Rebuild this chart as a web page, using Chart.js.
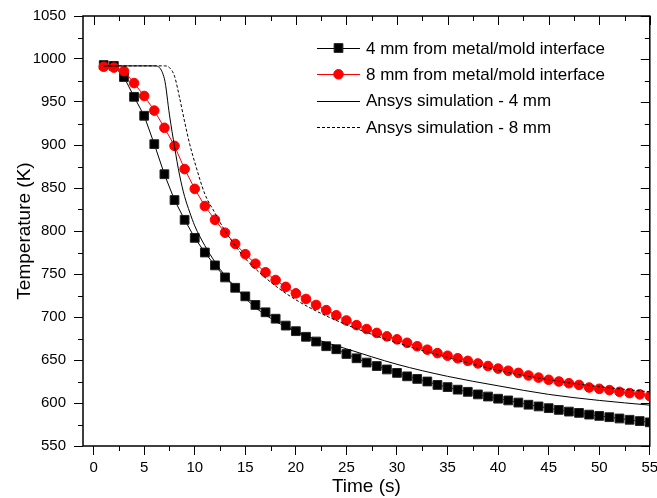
<!DOCTYPE html>
<html>
<head>
<meta charset="utf-8">
<script src="https://cdn.jsdelivr.net/npm/chart.js@4.4.0/dist/chart.umd.min.js"></script>
<style>
  html, body { margin: 0; padding: 0; background: #fff; }
</style>
</head>
<body>
<canvas id="chart" width="657" height="498"></canvas>
<script>
// ── Data ─────────────────────────────────────────────────────────────────────
const time = [1, 2, 3, 4, 5, 6, 7, 8, 9, 10, 11, 12, 13, 14, 15, 16, 17, 18, 19, 20,
  21, 22, 23, 24, 25, 26, 27, 28, 29, 30, 31, 32, 33, 34, 35, 36, 37, 38, 39, 40,
  41, 42, 43, 44, 45, 46, 47, 48, 49, 50, 51, 52, 53, 54, 55];

const temp4mm = [993, 992, 979, 956, 934, 901, 866, 836, 813, 792, 775, 760, 746, 734, 724, 714, 705.5, 698, 690, 683.5,
  677, 671.5, 666, 662.5, 657, 652, 647, 643, 639, 635, 631, 628, 625, 621, 618.5, 615.5, 613, 610, 607.5, 605,
  603, 600.5, 598, 596, 594, 592, 590, 588.5, 586.5, 585, 583.5, 582, 580.5, 579, 577.5];

const temp8mm = [991, 990, 986, 972, 957, 940, 920, 899, 872, 849, 829, 813, 798, 785, 773, 762, 752, 743, 735, 727.5,
  721, 714, 708, 702, 696, 690.5, 686, 681.5, 677.5, 674, 670, 666, 662, 658, 655, 652, 649, 646, 643, 640,
  637.5, 635, 632, 629.5, 627, 625, 623, 621, 618, 616.5, 615, 613, 611.5, 610, 608];

const simTime4 = [1, 6, 7, 7.5, 8, 8.5, 9, 9.5, 10, 11, 12, 13, 14, 15, 16, 18, 20, 22, 25, 30, 35, 40, 45, 50, 55];
const simTemp4 = [992, 992, 977, 935, 898, 865, 840, 822, 806, 783, 764, 748, 735, 722, 711, 695, 683, 674, 663, 645, 631, 620, 610, 603, 597.5];

const simTime8 = [1, 7, 7.5, 8, 8.5, 9, 9.5, 10, 11, 12, 13, 14, 15, 16, 18, 20, 22, 25, 30, 35, 40, 45, 50, 55];
const simTemp8 = [992, 992, 990, 980, 955, 927, 901, 880, 843, 821, 800, 783, 768, 756, 736, 720, 707, 691, 670, 653, 638, 627, 619, 613];

const xTicks = [0, 5, 10, 15, 20, 25, 30, 35, 40, 45, 50, 55];
const yTicks = [550, 600, 650, 700, 750, 800, 850, 900, 950, 1000, 1050];

const labels = [
  '4 mm from metal/mold interface',
  '8 mm from metal/mold interface',
  'Ansys simulation - 4 mm',
  'Ansys simulation - 8 mm',
];

const FONT = "'Liberation Sans', Arial, sans-serif";
const pts = (xs, ys) => xs.map((x, i) => ({ x, y: ys[i] }));

// Frame, minor ticks and the inward ticks on the top/right sides.
const framePlugin = {
  id: 'frame',
  afterDraw(chart) {
    const { ctx, chartArea: a, scales: { x, y } } = chart;
    ctx.save();
    ctx.strokeStyle = '#000';
    ctx.lineWidth = 1;
    ctx.beginPath();
    xTicks.forEach((v, i) => {
      const px = Math.round(x.getPixelForValue(v)) + 0.5;
      ctx.moveTo(px, a.top); ctx.lineTo(px, a.top + 9);
      if (i < xTicks.length - 1) {
        const mx = Math.round(x.getPixelForValue((v + xTicks[i + 1]) / 2)) + 0.5;
        ctx.moveTo(mx, a.bottom); ctx.lineTo(mx, a.bottom + 5);
        ctx.moveTo(mx, a.top); ctx.lineTo(mx, a.top + 5);
      }
    });
    yTicks.forEach((v, i) => {
      const py = Math.round(y.getPixelForValue(v)) + 0.5;
      ctx.moveTo(a.right, py); ctx.lineTo(a.right - 9, py);
      if (i < yTicks.length - 1) {
        const my = Math.round(y.getPixelForValue((v + yTicks[i + 1]) / 2)) + 0.5;
        ctx.moveTo(a.left, my); ctx.lineTo(a.left - 5, my);
        ctx.moveTo(a.right, my); ctx.lineTo(a.right - 5, my);
      }
    });
    ctx.stroke();
    ctx.lineWidth = 1.5;
    ctx.strokeRect(a.left, a.top, a.right - a.left, a.bottom - a.top);
    ctx.restore();
  },
};

// Legend drawn as line–marker–line samples, like the original.
const legendPlugin = {
  id: 'sampleLegend',
  afterDraw(chart) {
    const { ctx } = chart;
    ctx.save();
    chart.data.datasets.forEach((ds, i) => {
      const yy = 48 + i * 26.3;
      ctx.strokeStyle = ds.borderColor;
      ctx.lineWidth = 1;
      ctx.setLineDash(ds.borderDash || []);
      ctx.beginPath();
      ctx.moveTo(317, Math.round(yy) + 0.5);
      ctx.lineTo(360, Math.round(yy) + 0.5);
      ctx.stroke();
      ctx.setLineDash([]);
      if (ds.pointRadius > 0) {
        ctx.fillStyle = ds.pointBackgroundColor;
        ctx.strokeStyle = ds.pointBorderColor;
        Chart.helpers.drawPoint(ctx, {
          pointStyle: ds.pointStyle, radius: ds.pointRadius, rotation: 0, borderWidth: 1,
        }, 338.5, yy);
      }
      ctx.fillStyle = '#000';
      ctx.font = `17px ${FONT}`;
      ctx.textBaseline = 'middle';
      ctx.fillText(ds.label, 366, yy + 1);
    });
    ctx.restore();
  },
};

new Chart(document.getElementById('chart'), {
  type: 'line',
  data: {
    datasets: [
      {
        label: labels[0],
        data: pts(time, temp4mm),
        borderColor: '#000',
        borderWidth: 1,
        pointStyle: 'rect',
        pointRadius: 6.2,
        pointBackgroundColor: '#000',
        pointBorderColor: '#222',
        pointBorderWidth: 1,
        order: 3,
      },
      {
        label: labels[1],
        data: pts(time, temp8mm),
        borderColor: '#ff0000',
        borderWidth: 1,
        pointStyle: 'circle',
        pointRadius: 4.8,
        pointBackgroundColor: '#ff0000',
        pointBorderColor: '#ff0000',
        pointBorderWidth: 1,
        order: 2,
      },
      {
        label: labels[2],
        data: pts(simTime4, simTemp4),
        borderColor: '#000',
        borderWidth: 1,
        pointRadius: 0,
        cubicInterpolationMode: 'monotone',
        order: 1,
      },
      {
        label: labels[3],
        data: pts(simTime8, simTemp8),
        borderColor: '#000',
        borderWidth: 1,
        borderDash: [3, 2],
        pointRadius: 0,
        cubicInterpolationMode: 'monotone',
        order: 0,
      },
    ],
  },
  options: {
    responsive: false,
    animation: false,
    layout: { padding: { left: 0, top: 16, right: 7, bottom: 0 } },
    plugins: { legend: { display: false }, tooltip: { enabled: false } },
    scales: {
      x: {
        type: 'linear',
        min: -1.05,
        max: 55,
        afterBuildTicks: s => { s.ticks = xTicks.map(v => ({ value: v })); },
        afterFit: s => { s.height = 52; s.paddingLeft = 0; s.paddingRight = 0; },
        grid: { drawOnChartArea: false, drawTicks: true, tickLength: 9, color: '#000', lineWidth: 1 },
        border: { display: false },
        ticks: { color: '#000', font: { family: FONT, size: 15 }, padding: 4, maxRotation: 0, callback: v => String(v) },
        title: { display: true, text: 'Time (s)', color: '#000', font: { family: FONT, size: 19 }, padding: { top: 0, bottom: 0 } },
      },
      y: {
        type: 'linear',
        min: 550,
        max: 1050,
        afterBuildTicks: s => { s.ticks = yTicks.map(v => ({ value: v })); },
        afterFit: s => { s.width = 83; s.paddingTop = 0; s.paddingBottom = 0; },
        grid: { drawOnChartArea: false, drawTicks: true, tickLength: 9, color: '#000', lineWidth: 1 },
        border: { display: false },
        ticks: { color: '#000', font: { family: FONT, size: 15 }, padding: 8, callback: v => String(v) },
        title: { display: true, text: 'Temperature (K)', color: '#000', font: { family: FONT, size: 19 }, padding: { top: 13, bottom: 0 } },
      },
    },
  },
  plugins: [framePlugin, legendPlugin],
});
</script>
</body>
</html>
